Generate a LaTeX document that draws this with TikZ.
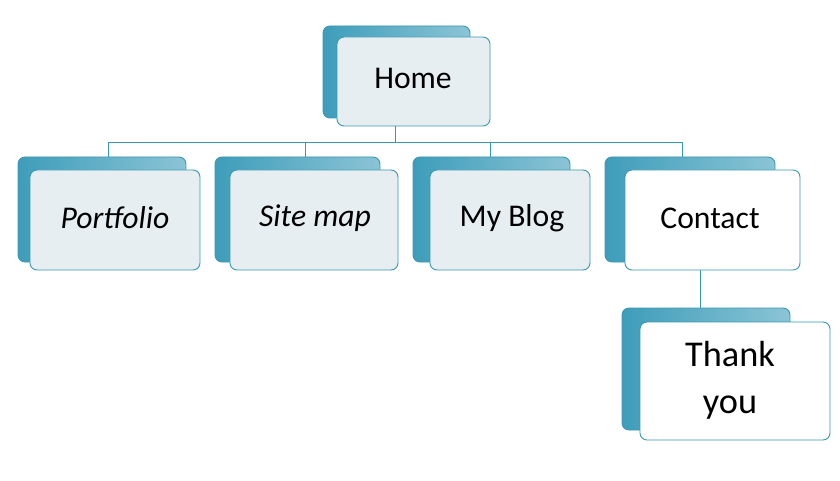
\documentclass[tikz,border=0pt]{standalone}
\usepackage{fontspec}
\setmainfont{Carlito}
\usetikzlibrary{positioning, calc}
\definecolor{tealback}{HTML}{3E9DBA}
\definecolor{tealedge}{HTML}{3A98B0}
\definecolor{paleface}{HTML}{E6EEF2}

\begin{document}
\begin{tikzpicture}[x=0.03cm, y=-0.03cm,
    back/.style={rectangle, rounded corners=6pt, draw=tealedge, left color=tealback, right color=tealback!60, thick},
    front/.style={rectangle, rounded corners=6pt, draw=tealedge, fill=paleface, thick},
    card/.style={front, fill=white},
    label/.style={font=\fontsize{27}{31}\selectfont, align=center},
    link/.style={draw=tealedge, thick}
]
\useasboundingbox (0,0) rectangle (840,481);

% Home
\draw[back] (323,26) rectangle (470,118);
\draw[front] (337,37) rectangle (490,126);
\node[label] (home) at (413,78) {Home};
\coordinate (homebot) at (395,126);

% Row 2
\draw[back] (18,157) rectangle (186,262);
\draw[front] (30,170) rectangle (200,270);
\node[label, font=\fontsize{27}{31}\selectfont\itshape] (portfolio) at (115,218) {Portfolio};

\draw[back] (215,157) rectangle (380,262);
\draw[front] (230,170) rectangle (398,270);
\node[label, font=\fontsize{27}{31}\selectfont\itshape] (sitemap) at (315,218) {Site map};

\draw[back] (413,157) rectangle (570,262);
\draw[front] (430,170) rectangle (590,270);
\node[label] (blog) at (512,218) {My Blog};

\draw[back] (605,157) rectangle (775,262);
\draw[card] (625,170) rectangle (800,270);
\node[label] (contact) at (710,218) {Contact};
\coordinate (contactbot) at (700,270);

% Row 3
\draw[back] (622,308) rectangle (790,430);
\draw[card] (640,322) rectangle (830,440);
\node[label, font=\fontsize{31}{40}\selectfont] (thanks) at (730,380) {Thank\\you};
\coordinate (thankstop) at (700,308);

% Connectors
\coordinate (bus) at (395,142);
\draw[link] (homebot) -- (bus);
\draw[link] (108,157) |- (682,142) -- (682,157);
\draw[link] (305,142) -- (305,157);
\draw[link] (490,142) -- (490,157);
\draw[link] (contactbot) -- (thankstop);
\end{tikzpicture}
\end{document}
